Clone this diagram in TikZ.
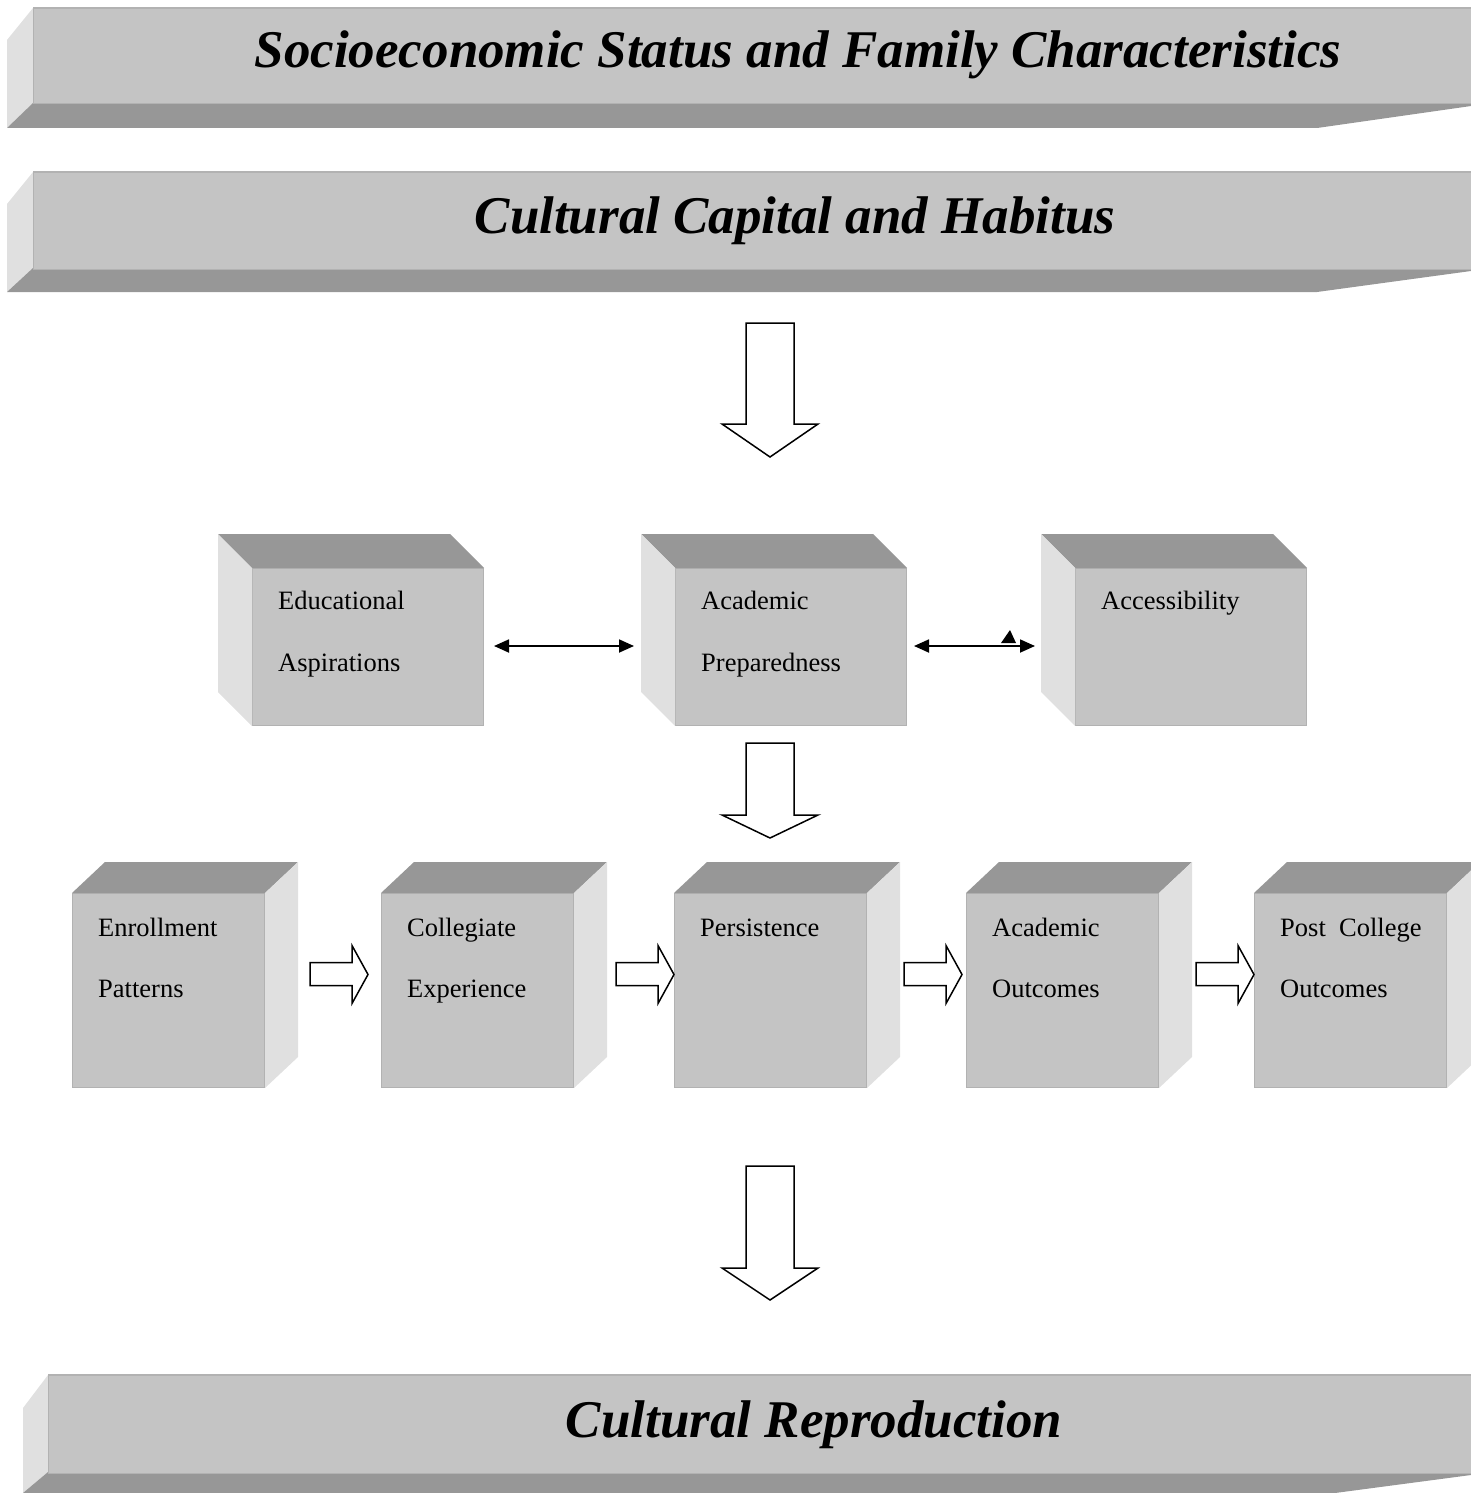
\documentclass[tikz,border=0pt]{standalone}
\usepackage{fontspec}
\setmainfont{Liberation Serif}
\usetikzlibrary{arrows.meta,calc}
\definecolor{frontc}{HTML}{C4C4C4}
\definecolor{darkc}{HTML}{979797}
\definecolor{lightc}{HTML}{E0E0E0}
\definecolor{edgec}{HTML}{B2B2B2}
\tikzset{
  front/.style={fill=frontc,draw=edgec,line width=1pt,inner sep=0pt,anchor=north west},
  darkface/.style={fill=darkc,draw=none},
  lightface/.style={fill=lightc,draw=none},
  boxtext/.style={font=\fontsize{26.5}{26.5}\selectfont,anchor=base west,inner sep=0pt},
  bannertext/.style={font=\fontsize{53}{53}\selectfont\bfseries\itshape,anchor=base,inner sep=0pt},
  blockarrow/.style={fill=white,draw=black,line width=1.5pt,line join=miter},
  dblarrow/.style={{Triangle[length=15pt,width=13pt]}-{Triangle[length=15pt,width=13pt]},line width=1.8pt}
}
\begin{document}
\begin{tikzpicture}[x=1pt,y=-1pt]
\useasboundingbox (0,0) rectangle (1471,1493);
% ---------- banners ----------
% banner 1
\fill[lightface] (33,8) -- (7,40) -- (7,128) -- (33,103) -- cycle;
\fill[darkface] (33,103) -- (1471,103) -- (1471,106) -- (1317,128) -- (7,128) -- cycle;
\node[front,draw=none,minimum width=1438,minimum height=95] (b1) at (33,8) {};
\draw[edgec,line width=1.5pt] (b1.north west) -- (b1.north east);
\draw[edgec,line width=1pt] (b1.south west) -- (b1.south east);
\draw[edgec,line width=1pt] (b1.north west) -- (b1.south west);
\node[bannertext] (t1) at (798,68) {Socioeconomic Status and Family Characteristics};
% banner 2
\fill[lightface] (33,172) -- (7,204) -- (7,292) -- (33,268) -- cycle;
\fill[darkface] (33,268) -- (1471,268) -- (1471,271) -- (1317,292) -- (7,292) -- cycle;
\node[front,draw=none,minimum width=1438,minimum height=96] (b2) at (33,172) {};
\draw[edgec,line width=1.5pt] (b2.north west) -- (b2.north east);
\draw[edgec,line width=1pt] (b2.south west) -- (b2.south east);
\draw[edgec,line width=1pt] (b2.north west) -- (b2.south west);
\node[bannertext] (t2) at (795,233) {Cultural Capital and Habitus};
% banner 3
\fill[lightface] (48,1375) -- (23,1408) -- (23,1493) -- (48,1472) -- cycle;
\fill[darkface] (48,1472) -- (1471,1472) -- (1471,1475) -- (1335,1493) -- (23,1493) -- cycle;
\node[front,draw=none,minimum width=1423,minimum height=97] (b3) at (48,1375) {};
\draw[edgec,line width=1.5pt] (b3.north west) -- (b3.north east);
\draw[edgec,line width=1pt] (b3.south west) -- (b3.south east);
\draw[edgec,line width=1pt] (b3.north west) -- (b3.south west);
\node[bannertext] (t3) at (814,1437) {Cultural Reproduction};
% ---------- top row boxes (depth to upper left) ----------
\foreach \n/\x in {ea/252,ap/675,ac/1075}{
  \node[front,minimum width=231,minimum height=157] (\n) at (\x,568) {};
  \fill[darkface] (\n.north west) -- ++(-34,-34) -- ([shift={(-34,-34)}]\n.north east) -- (\n.north east) -- cycle;
  \fill[lightface] (\n.north west) -- ++(-34,-34) -- ([shift={(-34,-34)}]\n.south west) -- (\n.south west) -- cycle;
}
\node[boxtext] (ea1) at (278,609) {Educational};
\node[boxtext] (ea2) at (278,671) {Aspirations};
\node[boxtext] (ap1) at (701,609) {Academic};
\node[boxtext] (ap2) at (701,671) {Preparedness};
\node[boxtext] (ac1) at (1101,609) {Accessibility};
% double arrows
\draw[dblarrow] ([xshift=10]ea.east |- 0,646) -- ([xshift=-41]ap.west |- 0,646);
\draw[dblarrow] ([xshift=7]ap.east |- 0,646) -- ([xshift=-40]ac.west |- 0,646);
\fill (1001,643) -- (1010,630) -- (1016,643) -- cycle;
% ---------- bottom row boxes (depth to upper right) ----------
\foreach \n/\x in {ep/72,ce/381,pe/674,ao/966,pc/1254}{
  \node[front,minimum width=192,minimum height=194] (\n) at (\x,893) {};
  \fill[darkface] (\n.north west) -- ++(33,-31) -- ([shift={(33,-31)}]\n.north east) -- (\n.north east) -- cycle;
  \fill[lightface] (\n.north east) -- ++(33,-31) -- ([shift={(33,-31)}]\n.south east) -- (\n.south east) -- cycle;
}
\node[boxtext] (ep1) at (98,936) {Enrollment};
\node[boxtext] (ep2) at (98,997) {Patterns};
\node[boxtext] (ce1) at (407,936) {Collegiate};
\node[boxtext] (ce2) at (407,997) {Experience};
\node[boxtext] (pe1) at (700,936) {Persistence};
\node[boxtext] (ao1) at (992,936) {Academic};
\node[boxtext] (ao2) at (992,997) {Outcomes};
\node[boxtext] (pc1) at (1280,936) {Post\ \ College};
\node[boxtext] (pc2) at (1280,997) {Outcomes};
% ---------- right block arrows ----------
\foreach \a/\b/\off in {ep/ce/-13,ce/pe/0,pe/ao/-4,ao/pc/0}{
  \draw[blockarrow] ($(\b.west)+(\off,-16)$) -- ++(-16,-29) -- ++(0,17) -- ++(-42,0) -- ++(0,23) -- ++(42,0) -- ++(0,18) -- cycle;
}
% ---------- down block arrows ----------
\draw[blockarrow] (746,323) -- (794,323) -- (794,424) -- (818,424) -- (770,457) -- (722,424) -- (746,424) -- cycle;
\draw[blockarrow] (746,743) -- (794,743) -- (794,815) -- (818,815) -- (770,838) -- (722,815) -- (746,815) -- cycle;
\draw[blockarrow] (746,1166) -- (794,1166) -- (794,1268) -- (818,1268) -- (770,1300) -- (722,1268) -- (746,1268) -- cycle;
\end{tikzpicture}
\end{document}
